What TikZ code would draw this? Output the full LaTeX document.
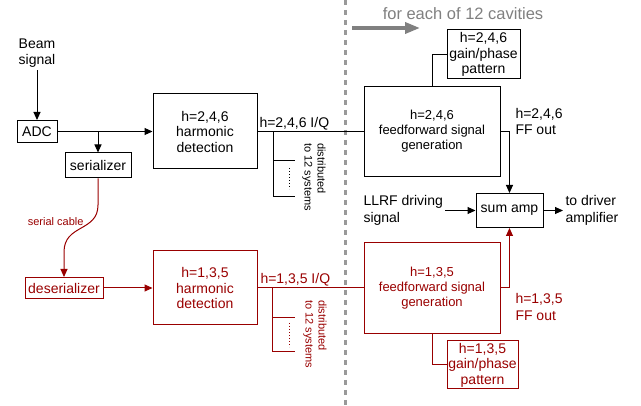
\documentclass[tikz,border=0pt]{standalone}
\usepackage{fontspec}
\setmainfont{Liberation Sans}
\usetikzlibrary{arrows.meta}

\definecolor{darkred}{HTML}{990000}
\definecolor{guide}{HTML}{999999}
\definecolor{guidetext}{HTML}{808080}

\tikzset{
	box/.style={draw, align=center, inner sep=0pt, font=\fontsize{14}{15.5}\selectfont},
	ffbox/.style={box, font=\fontsize{13}{15}\selectfont},
	txt/.style={align=left, inner sep=2pt, font=\fontsize{14}{16.5}\selectfont},
	note/.style={align=left, inner sep=1pt, font=\fontsize{11}{13}\selectfont}
}

\begin{document}
\begin{tikzpicture}[x=1pt, y=-1pt, line width=1pt, >={Triangle[length=8pt,width=7pt]}]
		\useasboundingbox (0,0) rectangle (641,406);

		% shared / per cavity divider
		\draw[guide, line width=3pt, dash pattern=on 5pt off 5pt] (345,0) -- (345,406);
		\node[guidetext, font=\fontsize{16.5}{18}\selectfont] (cav) at (463,14) {for each of 12 cavities};
		\coordinate (cavfrom) at (352,28);
		\coordinate (cavto) at (420,28);
		\draw[guidetext, line width=3.5pt, -{Triangle[length=15pt,width=11pt]}] (cavfrom) -- (cavto);

		% even harmonics
		\node[txt, align=center] (beam) at (37,53) {Beam\\signal};
		\node[box, minimum width=40pt, minimum height=22pt] (adc) at (37,131.5) {ADC};
		\node[box, minimum width=66pt, minimum height=25pt] (ser) at (98,165.5) {serializer};
		\node[box, minimum width=104pt, minimum height=75pt] (hd1) at (205,131.5) {h=2,4,6\\harmonic\\detection};
		\node[ffbox, minimum width=136pt, minimum height=90pt] (ff1) at (432,131.5) {h=2,4,6\\feedforward signal\\generation};
		\node[box, minimum width=73pt, minimum height=49pt] (gp1) at (483.5,54.5) {h=2,4,6\\gain/phase\\pattern};

		\draw[->] (beam) -- (adc);
		\draw[->] (adc) -- (hd1);
		\draw[->] (adc.east -| ser.north) -- (ser.north);
		\draw (hd1) -- (ff1);
		\draw (gp1.west) -| (ff1.north);

		\node[txt, anchor=base west] (iq1) at (257,127.5) {h=2,4,6 I/Q};
		\coordinate (br1) at (273,131.5);
		\draw (br1) -- (273,197) -- (295,197);
		\draw (273,161) -- (295,161);
		\draw[dotted] (289,168) -- (289,189);
		\node[note, rotate=-90] (dist1) at (314,177) {distributed\\to 12 systems};

		% summing amplifier
		\node[box, minimum width=67pt, minimum height=34pt] (sum) at (509.5,210.5) {sum amp};
		\node[txt, anchor=west] (llrf) at (361,210.5) {LLRF driving\\signal};
		\node[txt, anchor=west] (drv) at (563,210.5) {to driver\\amplifier};
		\node[txt, anchor=west] (out1) at (513,121.5) {h=2,4,6\\FF out};

		\draw[->] (ff1.east) -| (sum.north);
		\draw[->] (llrf.east) -- (sum.west);
		\draw[->] (sum.east) -- (drv.west);

		% odd harmonics
		\begin{scope}[darkred]
		\node[box, minimum width=78pt, minimum height=21pt] (des) at (64,288) {deserializer};
		\node[box, minimum width=104pt, minimum height=74pt] (hd2) at (205,288) {h=1,3,5\\harmonic\\detection};
		\node[ffbox, minimum width=136pt, minimum height=91pt] (ff2) at (432,288) {h=1,3,5\\feedforward signal\\generation};
		\node[box, minimum width=71pt, minimum height=48pt] (gp2) at (482.5,365) {h=1,3,5\\gain/phase\\pattern};

		\draw[->] (ser.south) -- (98,205) .. controls (98,232) and (64,224) .. (64,252) -- (des.north);
		\node[note, anchor=east] (cable) at (85,222) {serial cable};
		\draw[->] (des) -- (hd2);
		\draw (hd2) -- (ff2);
		\draw (ff2.south) |- (gp2.west);
		\draw[->] (ff2.east) -| (sum.south);

		\node[txt, anchor=base west] (iq2) at (258,283.5) {h=1,3,5 I/Q};
		\coordinate (br2) at (272,288);
		\draw (br2) -- (272,352) -- (295,352);
		\draw (272,318) -- (295,318);
		\draw[dotted] (289,323) -- (289,347);
		\node[note, rotate=-90] (dist2) at (315,334) {distributed\\to 12 systems};
		\node[txt, anchor=west] (out2) at (513,307) {h=1,3,5\\FF out};
		\end{scope}
\end{tikzpicture}
\end{document}
